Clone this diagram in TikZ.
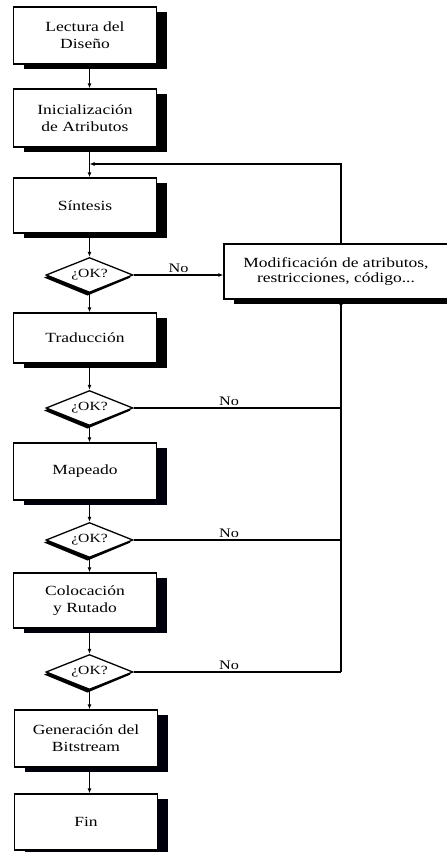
\documentclass[tikz,border=0pt]{standalone}
\usepackage{fontspec}
\setmainfont{Liberation Serif}[FakeStretch=1.25]
\usetikzlibrary{shapes.geometric,arrows.meta}

\definecolor{shadowink}{RGB}{0,0,12}

\tikzset{
  stepbox/.style={draw, line width=1.3pt, fill=white, rectangle,
    minimum width=143pt, inner sep=0pt, align=center,
    font=\fontsize{14}{17}\selectfont},
  modbox/.style={stepbox, minimum width=224pt, minimum height=55pt,
    font=\fontsize{14}{15}\selectfont},
  okdiamond/.style={draw, line width=1.3pt, fill=white, diamond, aspect=2.5,
    inner sep=0pt, minimum width=87pt, minimum height=35pt,
    font=\fontsize{12.5}{14}\selectfont},
  link/.style={line width=1.1pt},
  arr/.style={link, -{Latex[length=5pt,width=4pt]}},
  nolabel/.style={above, inner sep=1.5pt, font=\fontsize{13}{14}\selectfont},
  boxshadow/.style={fill=black, draw=none},
  boxshadowalt/.style={fill=shadowink, draw=none}
}

\begin{document}
\begin{tikzpicture}[x=1pt, y=-1pt]
  \useasboundingbox (0,0) rectangle (447,852);

  % solid shadows, drawn first so the boxes cover them
  \foreach \l/\t/\r/\b in {13.5/7/156.5/64, 13.5/89/156.5/147, 13.5/178/156.5/233,
      13.5/313/156.5/363, 224/244/448/299}
    \fill[boxshadow] (\l+10,\t+5) rectangle (\r+10,\b+5);
  \foreach \l/\t/\r/\b in {13.5/443/156.5/500, 13.5/573/156.5/628,
      14.5/710/157.5/767, 14.5/794/157.5/850}
    \fill[boxshadowalt] (\l+10,\t+5) rectangle (\r+10,\b+5);
  \foreach \y in {275,408,540,672}
    \fill[boxshadow] (44,\y+2.5) -- (87.5,\y-15) -- (130.5,\y+2.5) -- (87.5,\y+20.5) -- cycle;

  % main column of steps
  \node[stepbox, minimum height=57pt] (b1) at (85,35.5) {Lectura del\\Diseño};
  \node[stepbox, minimum height=58pt] (b2) at (85,118) {Inicialización\\de Atributos};
  \node[stepbox, minimum height=55pt] (b3) at (85,205.5) {Síntesis};
  \node[okdiamond] (d1) at (89.5,275) {¿OK?};
  \node[stepbox, minimum height=50pt] (b4) at (85,338) {Traducción};
  \node[okdiamond] (d2) at (89.5,408) {¿OK?};
  \node[stepbox, minimum height=57pt] (b5) at (85,471.5) {Mapeado};
  \node[okdiamond] (d3) at (89.5,540) {¿OK?};
  \node[stepbox, minimum height=55pt] (b6) at (85,600.5) {Colocación\\y Rutado};
  \node[okdiamond] (d4) at (89.5,672) {¿OK?};
  \node[stepbox, minimum height=57pt] (b7) at (86,738.5) {Generación del\\Bitstream};
  \node[stepbox, minimum height=56pt] (b8) at (86,822) {Fin};

  % modification box on the right
  \node[modbox] (m) at (336,271.5) {Modificación de atributos,\\restricciones, código...};

  % main flow
  \coordinate (j) at (89.5,164);
  \draw[arr] (b1.south -| d1) -- (b2.north -| d1);
  \draw[link] (b2.south -| d1) -- (j);
  \draw[arr] (j) -- (b3.north -| d1);
  \draw[arr] (b3.south -| d1) -- (d1.north);
  \draw[arr] (d1.south) -- (b4.north -| d1);
  \draw[arr] (b4.south -| d1) -- (d2.north);
  \draw[arr] (d2.south) -- (b5.north -| d1);
  \draw[arr] (b5.south -| d1) -- (d3.north);
  \draw[arr] (d3.south) -- (b6.north -| d1);
  \draw[arr] (b6.south -| d1) -- (d4.north);
  \draw[arr] (d4.south) -- (b7.north -| d1);
  \draw[arr] (b7.south -| d1) -- (b8.north -| d1);

  % rejections
  \coordinate (rt) at (341,244);
  \coordinate (rb) at (341,672);
  \draw[arr] (d1.east) -- node[nolabel] {No} (m.west |- d1);
  \draw[link] (d2.east) -- node[nolabel, pos=0.46] {No} (d2 -| rb);
  \draw[link] (d3.east) -- node[nolabel, pos=0.46] {No} (d3 -| rb);
  \draw[link] (d4.east) -- node[nolabel, pos=0.46] {No} (rb);
  \draw[arr] (rb) -- (m.south -| rb);

  % feedback to the synthesis step
  \draw[arr] (m.north -| rt) |- (j);
\end{tikzpicture}
\end{document}
